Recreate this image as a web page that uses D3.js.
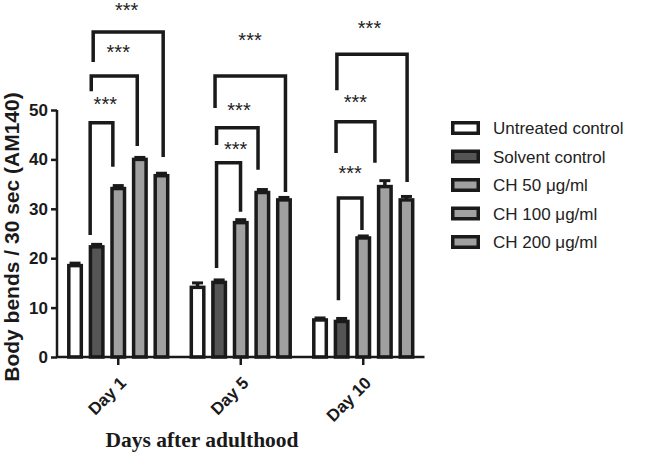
<!DOCTYPE html>
<html>
<head>
<meta charset="utf-8">
<script src="https://cdn.jsdelivr.net/npm/d3@7"></script>
<style>
  body { margin: 0; background: #fff; }
  svg { display: block; }
</style>
</head>
<body>
<div id="chart"></div>
<script>
// data
const days = ["Day 1", "Day 5", "Day 10"];
const groups = ["Untreated control", "Solvent control", "CH 50 μg/ml", "CH 100 μg/ml", "CH 200 μg/ml"];
const fills = ["#ffffff", "#555555", "#a0a0a0", "#a0a0a0", "#a0a0a0"];
const means = [
  [18.5, 22.3, 34.1, 40.0, 36.7],
  [14.1, 15.1, 27.2, 33.3, 31.8],
  [7.5, 7.2, 24.1, 34.5, 31.8]
];
const errs = [
  [0.5, 0.5, 0.6, 0.4, 0.5],
  [0.9, 0.5, 0.6, 0.6, 0.5],
  [0.4, 0.6, 0.4, 1.2, 0.7]
];
const yTicks = [0, 10, 20, 30, 40, 50];
// significance brackets: day, left/right leg (bar position), top, left foot, right foot (y units)
const brackets = [
  {day: 0, l: 0.70, r: 1.75, top: 47.4, lb: 24.7, rb: 38.5},
  {day: 0, l: 0.75, r: 2.88, top: 56.9, lb: 53.8, rb: 42.7},
  {day: 0, l: 0.84, r: 4.08, top: 65.8, lb: 59.7, rb: 40.5},
  {day: 1, l: 0.88, r: 1.99, top: 39.3, lb: 18.0, rb: 29.4},
  {day: 1, l: 0.88, r: 2.80, top: 46.4, lb: 42.9, rb: 37.9},
  {day: 1, l: 0.81, r: 4.07, top: 56.9, lb: 50.4, rb: 33.4},
  {day: 2, l: 0.85, r: 1.94, top: 32.2, lb: 11.5, rb: 25.7},
  {day: 2, l: 0.74, r: 2.54, top: 47.6, lb: 41.3, rb: 39.3},
  {day: 2, l: 0.78, r: 4.03, top: 61.3, lb: 54.0, rb: 35.4}
];
const stars = [
  {day: 0, pos: 1.40, y: 52.2}, {day: 0, pos: 2.00, y: 62.8}, {day: 0, pos: 2.39, y: 71.3},
  {day: 1, pos: 1.76, y: 43.1}, {day: 1, pos: 1.92, y: 51.0}, {day: 1, pos: 2.43, y: 65.1},
  {day: 2, pos: 1.39, y: 38.3}, {day: 2, pos: 1.64, y: 52.6}, {day: 2, pos: 2.29, y: 67.6}
];

const W = 646, H = 454;
const svg = d3.select("#chart").append("svg").attr("width", W).attr("height", H);
const ink = "#1a1a1a";

const x = d3.scaleBand().domain(days).range([57, 424.5]).padding(0);
const inner = d3.scaleLinear().domain([0, 4]).range([-43.2, 43.2]);
const y = d3.scaleLinear().domain([0, 50]).range([357, 110]);
const barW = 12.5;
const px = (d, p) => x(days[d]) + x.bandwidth() / 2 + inner(p);

// bars
const rows = means.flatMap((row, d) => row.map((v, g) => ({d, g, v, e: errs[d][g]})));
const barG = svg.append("g");
barG.selectAll("line.err").data(rows).join("line")
  .attr("x1", r => px(r.d, r.g)).attr("x2", r => px(r.d, r.g))
  .attr("y1", r => y(r.v)).attr("y2", r => y(r.v + r.e))
  .attr("stroke", ink).attr("stroke-width", 3.5);
barG.selectAll("line.cap").data(rows).join("line")
  .attr("x1", r => px(r.d, r.g) - 5.5).attr("x2", r => px(r.d, r.g) + 5.5)
  .attr("y1", r => y(r.v + r.e)).attr("y2", r => y(r.v + r.e))
  .attr("stroke", ink).attr("stroke-width", 3);
barG.selectAll("rect").data(rows).join("rect")
  .attr("x", r => px(r.d, r.g) - barW / 2)
  .attr("width", barW)
  .attr("y", r => y(r.v))
  .attr("height", r => y(0) - y(r.v))
  .attr("fill", r => fills[r.g])
  .attr("stroke", ink).attr("stroke-width", 3.5);

// axes
const yAxis = svg.append("g").attr("transform", "translate(57,0)")
  .call(d3.axisLeft(y).tickValues(yTicks).tickSize(6).tickPadding(3));
const xAxis = svg.append("g").attr("transform", `translate(0,${y(0)})`)
  .call(d3.axisBottom(x).tickSize(8).tickFormat(""));
[yAxis, xAxis].forEach(a => {
  a.select(".domain").attr("stroke", ink).attr("stroke-width", 2.5);
  a.selectAll(".tick line").attr("stroke", ink).attr("stroke-width", 2.5);
});
xAxis.select(".domain").attr("d", "M57,0H424.5");
yAxis.select(".domain").attr("d", `M0,${y(50)}V${y(0)}`);
yAxis.selectAll(".tick text")
  .attr("font-family", "Arial, 'Liberation Sans', sans-serif")
  .attr("font-weight", "bold").attr("font-size", 17).attr("fill", ink);

// rotated day labels
svg.append("g").selectAll("text").data(days).join("text")
  .attr("transform", d => `translate(${x(d) + x.bandwidth() / 2 + 9},${y(0) + 27}) rotate(-45)`)
  .attr("text-anchor", "end")
  .attr("font-family", "Arial, 'Liberation Sans', sans-serif")
  .attr("font-weight", "bold").attr("font-size", 17).attr("fill", ink)
  .text(d => d);

// axis titles
svg.append("text")
  .attr("transform", "translate(19,237) rotate(-90)")
  .attr("text-anchor", "middle")
  .attr("font-family", "Arial, 'Liberation Sans', sans-serif")
  .attr("font-weight", "bold").attr("font-size", 21).attr("fill", ink)
  .text("Body bends / 30 sec (AM140)");
svg.append("text")
  .attr("x", 202).attr("y", 447)
  .attr("text-anchor", "middle")
  .attr("font-family", "'Times New Roman', 'Liberation Serif', serif")
  .attr("font-weight", "bold").attr("font-size", 21.5).attr("fill", ink)
  .text("Days after adulthood");

// significance brackets
svg.append("g").selectAll("path").data(brackets).join("path")
  .attr("d", b => `M${px(b.day, b.l)},${y(b.lb)}V${y(b.top)}H${px(b.day, b.r)}V${y(b.rb)}`)
  .attr("fill", "none").attr("stroke", ink).attr("stroke-width", 3.5);
svg.append("g").selectAll("text").data(stars).join("text")
  .attr("x", s => px(s.day, s.pos)).attr("y", s => y(s.y))
  .attr("dy", "0.6em")
  .attr("text-anchor", "middle")
  .attr("font-family", "Arial, 'Liberation Sans', sans-serif")
  .attr("font-size", 20).attr("fill", "#222")
  .text("***");

// legend
const leg = svg.append("g").attr("transform", "translate(451,128)");
const item = leg.selectAll("g").data(groups).join("g")
  .attr("transform", (d, i) => `translate(0,${i * 28.5})`);
item.append("rect")
  .attr("x", 1.75).attr("y", -5.25).attr("width", 25.5).attr("height", 10.5)
  .attr("fill", (d, i) => fills[i]).attr("stroke", ink).attr("stroke-width", 3.5);
item.append("text")
  .attr("x", 42).attr("y", 6)
  .attr("font-family", "Arial, 'Liberation Sans', sans-serif")
  .attr("font-size", 17).attr("fill", "#222")
  .text(d => d);
</script>
</body>
</html>
